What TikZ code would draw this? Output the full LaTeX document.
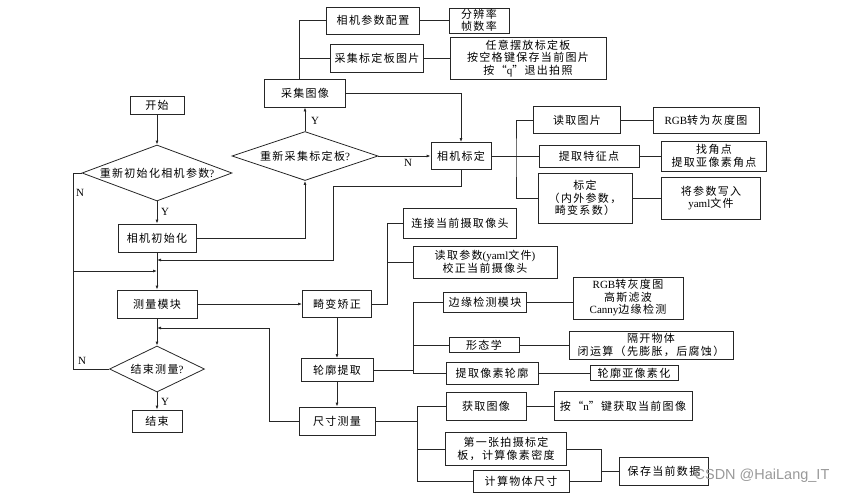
\documentclass[tikz,border=0pt]{standalone}
\usepackage{fontspec}
\setmainfont{Liberation Serif}
\newfontfamily\cjk[LetterSpace=12]{Noto Sans CJK SC}
\newfontfamily\wmfont{Liberation Sans}
\newcommand\latinf{\rmfamily}
\usetikzlibrary{shapes.geometric}
\usetikzlibrary{arrows.meta}

\tikzset{
  box/.style={draw=black!85, line width=0.8pt, inner sep=0pt, align=center,
    font=\cjk\fontsize{11}{12.5}\selectfont},
  bx/.style 2 args={box, minimum width=#1, minimum height=#2},
  dia/.style={box, diamond},
  line/.style={draw=black!85, line width=0.8pt},
  arr/.style={line, -{Latex[length=4pt,width=3pt]}},
  yn/.style={inner sep=0pt, font=\fontsize{11}{12}\selectfont}
}

\begin{document}
\begin{tikzpicture}[x=1pt,y=-1pt]
\useasboundingbox (0,0) rectangle (845,496);

% main column
\node[bx={54}{18}] (start) at (157,105) {开始};
\node[dia, aspect=2.68, minimum width=150, minimum height=56] (d1) at (157,173) {重新初始化相机参数{\latinf ?}};
\node[bx={78}{28}] (init) at (157,238) {相机初始化};
\node[bx={80}{28}] (meas) at (157,304) {测量模块};
\node[dia, aspect=2.07, minimum width=95, minimum height=46] (d3) at (157,369) {结束测量{\latinf ?}};
\node[bx={50}{22}] (end) at (157,421) {结束};

% calibration branch
\node[bx={81}{28}] (cap) at (305,93) {采集图像};
\node[dia, aspect=2.98, minimum width=146, minimum height=49] (d2) at (305,156) {重新采集标定板{\latinf ?}};
\node[bx={93}{27}] (cfg) at (373,20.5) {相机参数配置};
\node[bx={60}{25}] (res) at (479,20.5) {分辨率\\帧数率};
\node[bx={93}{28}] (grab) at (377,58) {采集标定板图片};
\node[bx={156}{42}] (tip) at (528,58) {任意摆放标定板\\按空格键保存当前图片\\按“{\latinf q}”退出拍照};
\node[bx={60}{27}] (calib) at (461,156) {相机标定};
\node[bx={87}{27}] (rd) at (577,120) {读取图片};
\node[bx={106}{26}] (gray) at (706,120) {{\latinf RGB}转为灰度图};
\node[bx={100}{22}] (feat) at (589,156) {提取特征点};
\node[bx={105}{30}] (corner) at (714,156) {找角点\\提取亚像素角点};
\node[bx={94}{50}] (cal) at (585,198) {标定\\（内外参数，\\畸变系数）};
\node[bx={99}{42}] (yaml) at (711,198) {将参数写入\\{\latinf yaml}文件};

% measurement branch
\node[bx={69}{27}] (und) at (337,304) {畸变矫正};
\node[bx={113}{30}] (conn) at (460,223) {连接当前摄取像头};
\node[bx={144}{32}] (para) at (485,262) {读取参数{\latinf (yaml}文件{\latinf )}\\校正当前摄像头};
\node[bx={72}{23}] (cont) at (337,370) {轮廓提取};
\node[bx={83}{20}] (edge) at (485,302) {边缘检测模块};
\node[bx={110}{42}] (canny) at (628,298) {{\latinf RGB}转灰度图\\高斯滤波\\{\latinf Canny}边缘检测};
\node[bx={70}{15}] (morph) at (484,345) {形态学};
\node[bx={164}{28}] (close) at (651,345) {隔开物体\\闭运算（先膨胀，后腐蚀）};
\node[bx={92}{22}] (pix) at (492,373) {提取像素轮廓};
\node[bx={88}{15}] (sub) at (634,373) {轮廓亚像素化};
\node[bx={76}{28}] (size) at (337,421) {尺寸测量};
\node[bx={80}{28}] (get) at (486,406) {获取图像};
\node[bx={138}{29}] (key) at (623,406) {按“{\latinf n}”键获取当前图像};
\node[bx={121}{33}] (first) at (506,449) {第一张拍摄标定\\板，计算像素密度};
\node[bx={96}{22}] (obj) at (521,481) {计算物体尺寸};
\node[bx={89}{28}] (save) at (664,471) {保存当前数据};

% junctions
\coordinate (lft) at (73,271);
\coordinate (j1) at (157,260);
\coordinate (j2) at (157,271);
\coordinate (j3) at (157,328);
\coordinate (r1) at (333,186);
\coordinate (r2) at (269,328);
\coordinate (t1) at (299,79);
\coordinate (t2) at (516,156);
\coordinate (t3) at (387,304);
\coordinate (t4) at (413,373);
\coordinate (t5) at (417,481);
\coordinate (t6) at (601,449);

% main flow
\draw[arr] (start) -- (d1);
\draw[arr] (d1) -- (init);
\draw[arr] (init) -- (meas);
\draw[arr] (meas) -- (d3);
\draw[arr] (d3) -- (end);
\draw[line] (d1.west) -| (lft);
\draw[line] (d3.west) -| (lft);
\draw[arr] (lft) -- (j2);
\node[yn] (n1) at (80,193) {N};
\node[yn] (y1) at (165,212) {Y};
\node[yn] (n3) at (82,361) {N};
\node[yn] (y3) at (165,402) {Y};

% calibration
\draw[arr] (init.east) -| (d2.south);
\draw[arr] (d2.north) -- (cap.south);
\draw[arr] (cap.east) -| (calib.north);
\draw[arr] (d2.east) -- (calib.west);
\draw[arr] (calib.south) |- (r1) |- (j1);
\node[yn] (y2) at (315,121) {Y};
\node[yn] (n2) at (408,163) {N};
\draw[line] (cfg.west) -| (t1);
\draw[line] (grab.west) -- (grab.west -| t1);
\draw[line] (cfg) -- (res);
\draw[line] (grab) -- (tip);
\draw[line] (calib.east) -- (feat.west);
\draw[line] (rd.west) -| (t2) |- (cal.west);
\draw[line] (rd) -- (gray);
\draw[line] (feat) -- (corner);
\draw[line] (cal) -- (yaml);

% measurement
\draw[arr] (meas) -- (und);
\draw[line] (und.east) -- (t3) |- (conn.west);
\draw[line] (t3 |- para.west) -- (para.west);
\draw[arr] (und) -- (cont);
\draw[arr] (cont) -- (size);
\draw[line] (edge.west) -| (t4) -- (pix.west);
\draw[line] (morph.west) -- (morph.west -| t4);
\draw[line] (cont.east) -- (cont.east -| t4);
\draw[line] (edge.east) -- (edge.east -| canny.west);
\draw[line] (morph) -- (close);
\draw[line] (pix) -- (sub);
\draw[line] (get.west) -| (t5) -- (obj.west);
\draw[line] (first.west) -- (first.west -| t5);
\draw[line] (size.east) -- (size.east -| t5);
\draw[line] (get) -- (key);
\draw[line] (first.east) -- (t6) |- (obj.east);
\draw[line] (t6 |- save.west) -- (save.west);
\draw[arr] (size.west) -| (r2) -- (j3);

\node[inner sep=0pt, text=black!40, font=\wmfont\fontsize{14.5}{16}\selectfont] (wm) at (762,476) {CSDN @HaiLang\_IT};
\end{tikzpicture}
\end{document}
